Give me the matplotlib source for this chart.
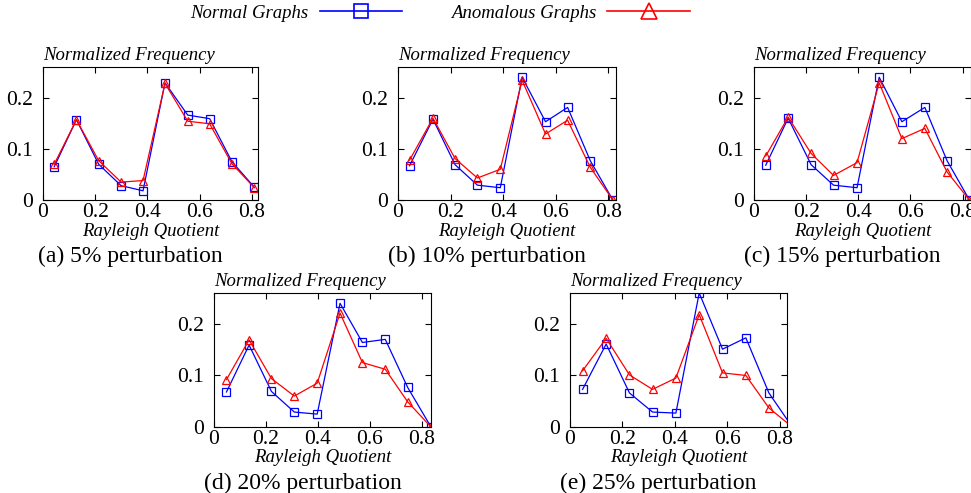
import numpy as np
import matplotlib
matplotlib.use('Agg')
import matplotlib.pyplot as plt
from matplotlib.lines import Line2D

plt.rcParams['font.family'] = 'Liberation Serif'

# bin centres (Rayleigh quotient) per panel
x_a = [0.043, 0.128, 0.213, 0.299, 0.383, 0.467, 0.554, 0.638, 0.723, 0.809]
x_b = [0.044, 0.133, 0.217, 0.302, 0.389, 0.472, 0.561, 0.645, 0.731, 0.817]
x_c = [0.045, 0.131, 0.219, 0.305, 0.395, 0.480, 0.567, 0.655, 0.740, 0.826]
x_d = [0.048, 0.135, 0.221, 0.309, 0.397, 0.485, 0.571, 0.659, 0.745, 0.835]
x_e = [0.048, 0.138, 0.227, 0.315, 0.404, 0.493, 0.582, 0.671, 0.759, 0.848]

normal_a = [0.065, 0.157, 0.070, 0.028, 0.018, 0.229, 0.166, 0.159, 0.075, 0.025]
anom_a   = [0.070, 0.157, 0.077, 0.035, 0.038, 0.228, 0.154, 0.149, 0.071, 0.024]
normal_b = [0.067, 0.158, 0.069, 0.029, 0.024, 0.240, 0.153, 0.181, 0.077, 0.0]
anom_b   = [0.078, 0.160, 0.081, 0.043, 0.060, 0.234, 0.129, 0.156, 0.064, 0.0]
normal_c = [0.068, 0.160, 0.069, 0.029, 0.024, 0.240, 0.153, 0.181, 0.077, 0.0]
anom_c   = [0.086, 0.162, 0.091, 0.048, 0.073, 0.229, 0.120, 0.140, 0.055, 0.0]
normal_d = [0.068, 0.159, 0.069, 0.029, 0.025, 0.240, 0.164, 0.170, 0.077, 0.0]
anom_d   = [0.092, 0.169, 0.094, 0.060, 0.085, 0.221, 0.125, 0.112, 0.049, 0.0]
normal_e = [0.073, 0.161, 0.066, 0.029, 0.027, 0.260, 0.151, 0.173, 0.066, 0.0]
anom_e   = [0.109, 0.172, 0.101, 0.073, 0.095, 0.218, 0.105, 0.100, 0.037, 0.0]

captions = ['(a) 5% perturbation', '(b) 10% perturbation', '(c) 15% perturbation',
            '(d) 20% perturbation', '(e) 25% perturbation']
xticks = [0, 0.2, 0.4, 0.6, 0.8]
yticks = [0, 0.1, 0.2]

W, H = 971, 493
fig = plt.figure(figsize=(W/100, H/100), dpi=100)

# (left, right, top, bottom) in pixels, xmax
boxes = [(43, 258, 67, 200, 0.823), (398, 616, 67, 200, 0.829),
         (754, 971, 67, 200, 0.832), (214, 431, 293, 427, 0.835),
         (570, 787, 293, 427, 0.828)]
xs = [x_a, x_b, x_c, x_d, x_e]
normals = [normal_a, normal_b, normal_c, normal_d, normal_e]
anoms = [anom_a, anom_b, anom_c, anom_d, anom_e]

for i in range(5):
    l, r, t, b, xmax = boxes[i]
    ax = fig.add_axes([l/W, 1-b/H, (r-l)/W, (b-t)/H])
    ax.plot(xs[i], normals[i], color='blue', lw=0.9, marker='s', ms=5.5,
            mfc='none', mew=0.9)
    ax.plot(xs[i], anoms[i], color='red', lw=0.9, marker='^', ms=5.5,
            mfc='none', mew=0.9)
    ax.set_xlim(0, xmax)
    ax.set_ylim(0, 0.26)
    ax.set_xticks(xticks)
    ax.set_xticklabels(['0', '0.2', '0.4', '0.6', '0.8'])
    ax.set_yticks(yticks)
    ax.set_yticklabels(['0', '0.1', '0.2'])
    ax.tick_params(direction='in', top=True, right=True, labelsize=15.5,
                   length=4, width=0.8)
    ax.tick_params(axis='x', pad=2)
    ax.tick_params(axis='y', pad=7)
    for s in ax.spines.values():
        s.set_linewidth(0.8)
    ax.text(0, 1.02, 'Normalized Frequency', transform=ax.transAxes,
            fontsize=13.5, style='italic', ha='left', va='bottom')
    cx = (l + r) / 2
    fig.text(cx/W, 1-(b+31)/H, 'Rayleigh Quotient', fontsize=13.5,
             style='italic', ha='center', va='center')
    fig.text((cx-20)/W, 1-(b+56)/H, captions[i], fontsize=17,
             ha='center', va='center')

h1 = Line2D([], [], color='blue', lw=1.2, marker='s', ms=10, mfc='none', mew=1.2)
h2 = Line2D([], [], color='red', lw=1.2, marker='^', ms=11, mfc='none', mew=1.2)
fig.legend([h1, h2], ['Normal Graphs', 'Anomalous Graphs'], ncol=2,
           loc='center', bbox_to_anchor=(440/W, 1-13/H), frameon=False,
           markerfirst=False, handlelength=4.4, handletextpad=0.6,
           columnspacing=2.6, prop={'style': 'italic', 'size': 13.5})

fig.savefig('out.png', dpi=100)
